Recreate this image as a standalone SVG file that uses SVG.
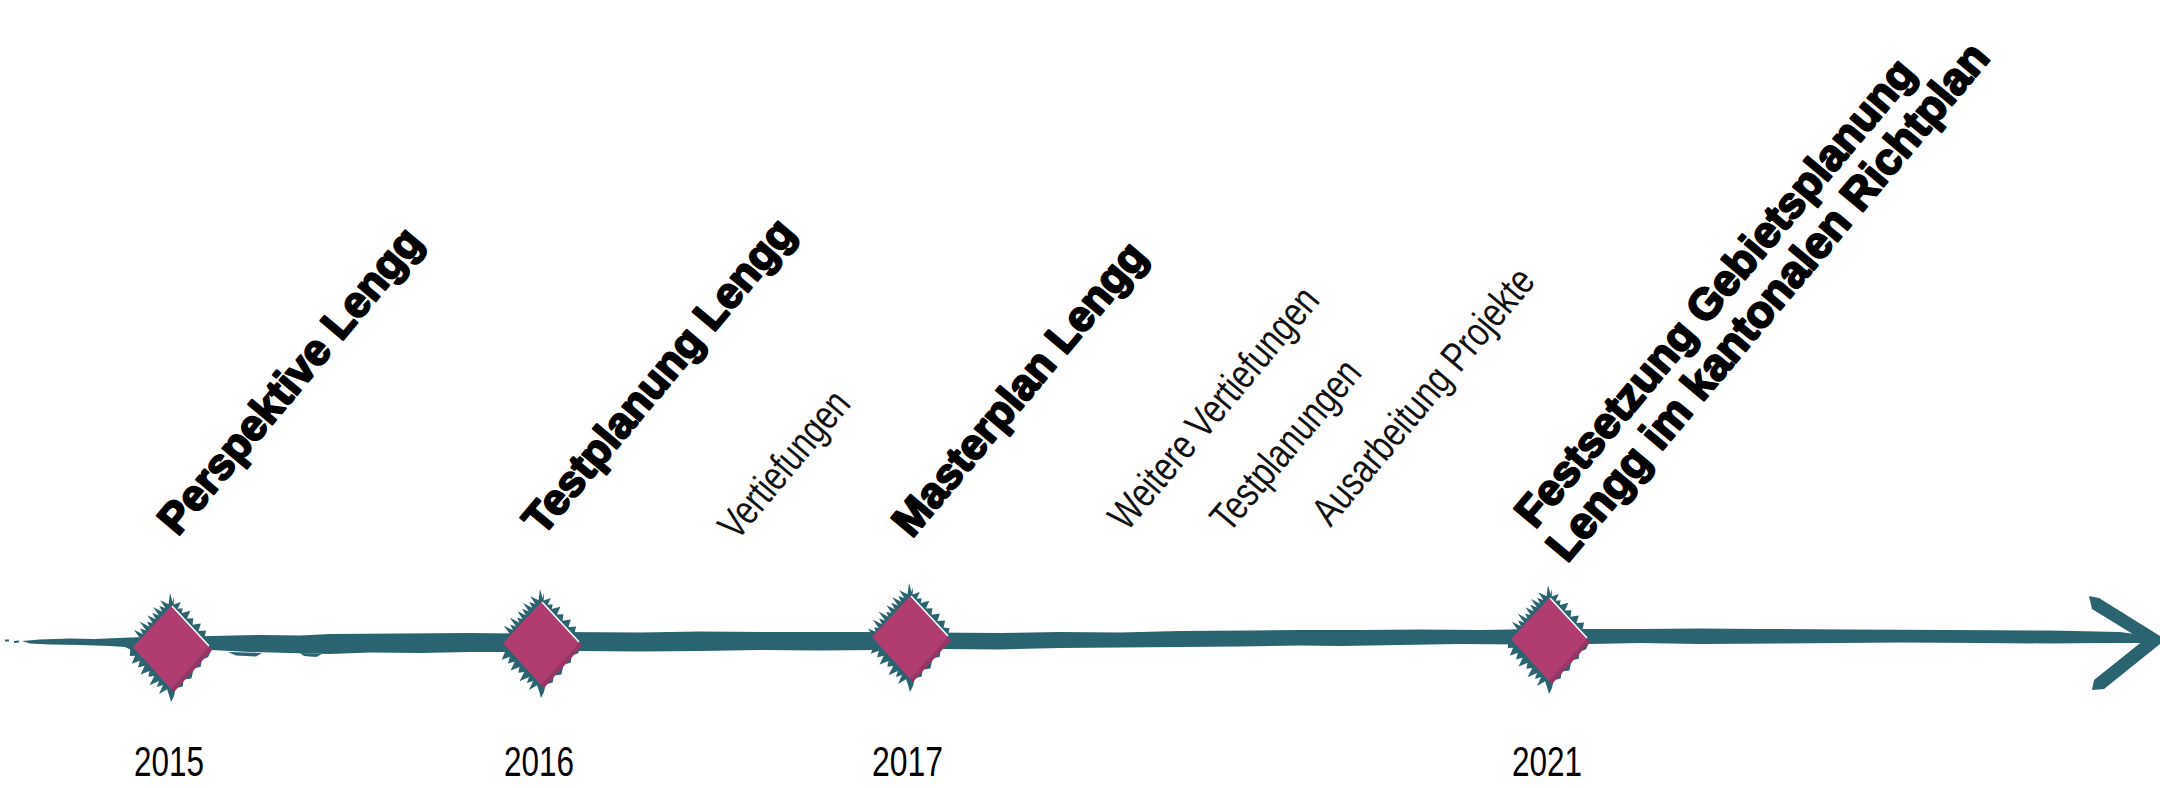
<svg xmlns="http://www.w3.org/2000/svg" xmlns:xlink="http://www.w3.org/1999/xlink" width="2160" height="788" viewBox="0 0 2160 788">
<style>
.bold{font-family:"Liberation Sans",Arial,sans-serif;font-weight:bold;fill:#000;stroke:#000;stroke-width:2.2;stroke-linejoin:round}
.reg{font-family:"Liberation Sans",Arial,sans-serif;font-size:41px;fill:#111}
.year{font-family:"Liberation Sans",Arial,sans-serif;font-size:42px;fill:#000}
.teal{fill:#2a6470}
</style>
<defs>
<g id="ms">
<path class="teal" d="M-40.8,1.4 L-46,-1 L-43,-3.8 L-37.6,-2.4 L-42,-9.5 L-34.4,-6.2 L-35.8,-10.7 L-31.2,-9.9 L-37.2,-18.3 L-28,-13.7 L-30.9,-19.5 L-24.8,-17.5 L-31.5,-26.5 L-21.6,-21.2 L-23.8,-26.3 L-18.4,-25 L-23.6,-32.7 L-15.2,-28.7 L-18.9,-35.2 L-12,-32.5 L-18,-40.9 L-8.8,-36.3 L-11.7,-42 L-5.6,-40 L-10.8,-47.7 L-2.4,-43.8 L-1,-55 L1.5,-46 L3,-51 L2.7,-43.5 L9.8,-46.1 L6.7,-39.2 L11.7,-39.8 L10.7,-35 L19.4,-37.3 L15.9,-29.4 L22.4,-29.7 L21.5,-23.3 L29.8,-24.6 L27.5,-16.9 L35.1,-17.5 L33.5,-10.4 L39.7,-9.7 L38,-4 L43,-1 L40,3 L37,9.3 L30.7,11.7 L29.7,18.75 L22.7,20.5 L20.4,30.4 L12.7,31.5 L11.7,38.5 L4.7,40.3 L3,48 L0,54 L-2,47 L-3.9,41.3 L-12,45.9 L-7.9,37.1 L-14.2,39.1 L-11.9,32.9 L-21.5,37.3 L-16.7,27.9 L-22.7,28.8 L-21.5,22.9 L-30.4,26.5 L-26.3,17.8 L-33,19.4 L-31.1,12.8 L-39.3,15.8 L-35.9,7.7 L-41.2,8 Z"/>
<path d="M38,-1 L41.5,1.5 L3,44 L0,41 Z" fill="#9b3466"/>
<path d="M0,-42 L38,-1 L0,41 L-38,-1 Z" fill="#b03c70"/>
<path d="M1,-42 L38,-2" stroke="#ffffff" stroke-width="1.6" fill="none"/>
</g>
</defs>
<rect width="2160" height="788" fill="#ffffff"/>
<g id="connectors">
<path class="teal" d="M22,641 L40,639.5 L70,638.5 L95,639 L130,637.5 L180,637 L211,636 L260,635 L300,635.5 L330,634 L400,633.5 L470,633 L520,633.5 L560,632 L640,632.5 L700,631.5 L780,632 L860,632 L930,632.5 L1000,633 L1060,632 L1120,632.5 L1180,631 L1250,630.5 L1300,630 L1360,630 L1420,629.5 L1480,630 L1540,629 L1640,629 L1700,628.5 L1760,629 L1850,629.5 L1950,630 L2050,630.5 L2120,632 L2150,636 L2158,640 L2150,643 L2100,643 L2050,643.5 L1980,643 L1900,642.5 L1840,643 L1780,643.5 L1700,644 L1640,643 L1590,644 L1520,644.5 L1460,644 L1400,645 L1340,646 L1300,645.5 L1240,646.5 L1180,647 L1120,647.5 L1060,648 L1000,649.5 L940,649 L880,650 L820,650.5 L760,650 L700,651 L640,651.5 L580,651 L520,652 L470,652 L420,653 L370,652.5 L330,654 L290,653 L250,652 L211,650 L180,648.5 L140,648 L110,646 L80,645 L50,644.5 L30,643.5 Z"/>
<path class="teal" d="M228,652 L262,653 L256,656.5 L236,655.5 Z M300,653 L322,654 L316,657 L304,656 Z M5,639.5 L9,639.5 L9,641.5 L5,641.5 Z M14,641 L19,640.5 L19,642.5 L14,643 Z"/>
<path class="teal" d="M2089,596 L2099,598 L2160,636 L2160,644 L2149,644 L2092,609 Z"/>
<path class="teal" d="M2149,636 L2160,636 L2160,644 L2104,689 L2092,690 L2094,680 Z"/>
</g>
<g id="node-2015">
<use xlink:href="#ms" transform="translate(171,648)"/>
<text class="year" x="134" y="776" textLength="70" lengthAdjust="spacingAndGlyphs">2015</text>
<text class="bold" font-size="43.2" transform="translate(177.7,537) rotate(-50)" textLength="384" lengthAdjust="spacingAndGlyphs">Perspektive Lengg</text>
</g>
<g id="node-2016">
<use xlink:href="#ms" transform="translate(541,644)"/>
<text class="year" x="504" y="776" textLength="70" lengthAdjust="spacingAndGlyphs">2016</text>
<text class="bold" font-size="42.9" transform="translate(542.5,537) rotate(-50)" textLength="396" lengthAdjust="spacingAndGlyphs">Testplanung Lengg</text>
</g>
<g id="label-vertiefungen">
<text class="reg" transform="translate(737,541.7) rotate(-50)" textLength="179" lengthAdjust="spacingAndGlyphs">Vertiefungen</text>
</g>
<g id="node-2017">
<use xlink:href="#ms" transform="translate(910,638)"/>
<text class="year" x="872" y="776" textLength="71" lengthAdjust="spacingAndGlyphs">2017</text>
<text class="bold" font-size="43" transform="translate(912,539) rotate(-50)" textLength="368" lengthAdjust="spacingAndGlyphs">Masterplan Lengg</text>
</g>
<g id="label-weitere">
<text class="reg" transform="translate(1127,532.6) rotate(-50)" textLength="302" lengthAdjust="spacingAndGlyphs">Weitere Vertiefungen</text>
</g>
<g id="label-testplanungen">
<text class="reg" transform="translate(1229,534) rotate(-50)" textLength="209" lengthAdjust="spacingAndGlyphs">Testplanungen</text>
</g>
<g id="label-ausarbeitung">
<text class="reg" transform="translate(1330.4,528) rotate(-50)" textLength="321" lengthAdjust="spacingAndGlyphs">Ausarbeitung Projekte</text>
</g>
<g id="node-2021">
<use xlink:href="#ms" transform="translate(1549,640)"/>
<text class="year" x="1512" y="776" textLength="70" lengthAdjust="spacingAndGlyphs">2021</text>
<text class="bold" font-size="43.5" transform="translate(1535,530) rotate(-50)" textLength="595" lengthAdjust="spacingAndGlyphs">Festsetzung Gebietsplanung</text>
<text class="bold" font-size="44.5" transform="translate(1567,564) rotate(-50)" textLength="660" lengthAdjust="spacingAndGlyphs">Lengg im kantonalen Richtplan</text>
</g>
</svg>
